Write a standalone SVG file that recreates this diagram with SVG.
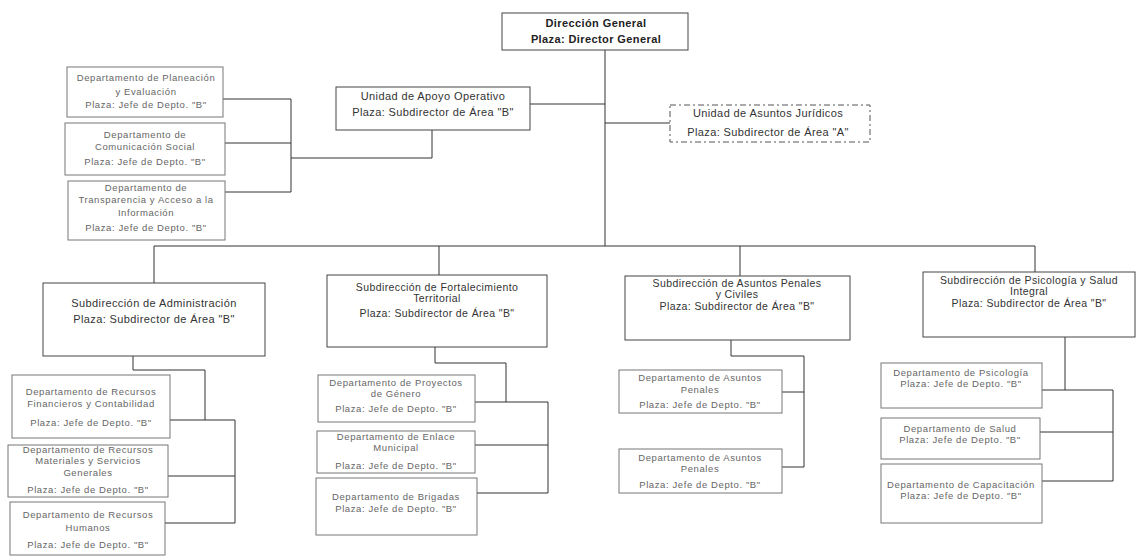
<svg xmlns="http://www.w3.org/2000/svg" width="1136" height="560" viewBox="0 0 1136 560">
<style>
.bx{fill:#fff;stroke:#444;stroke-width:1}
.db{fill:#fff;stroke:#777;stroke-width:1}
.dash{fill:#fff;stroke:#555;stroke-width:1;stroke-dasharray:6,3,2,3}
.ln{fill:none;stroke:#333;stroke-width:1}
text{font-family:"Liberation Sans",Arial,sans-serif;text-anchor:middle}
.t0{font-size:11px;font-weight:bold;fill:#222;letter-spacing:0.4px}
.t1{font-size:11px;fill:#333;letter-spacing:0.4px}
.t1s{font-size:10.5px;fill:#333;letter-spacing:0.4px}
.t2{font-size:9.5px;fill:#666;letter-spacing:0.6px}
</style>
<rect width="1136" height="560" fill="#fff"/>
<g id="connectors">
<path class="ln" d="M605,50 V246"/>
<path class="ln" d="M154,283 V246 H1035 V272"/>
<path class="ln" d="M439,246 V275"/>
<path class="ln" d="M740,246 V276"/>
<path class="ln" d="M530,104 H605"/>
<path class="ln" d="M605,123 H670"/>
<path class="ln" d="M432,130 V158 H291"/>
<path class="ln" d="M223,99 H291 V192 H225"/>
<path class="ln" d="M225,143 H291"/>
<path class="ln" d="M133,356 V370 H205 V420"/>
<path class="ln" d="M170,420 H235 V523 H165"/>
<path class="ln" d="M168,476 H235"/>
<path class="ln" d="M435,347 V363 H506 V402"/>
<path class="ln" d="M475,402 H548 V493 H477"/>
<path class="ln" d="M475,445 H548"/>
<path class="ln" d="M731,340 V356 H804 V467 H782"/>
<path class="ln" d="M782,392 H804"/>
<path class="ln" d="M1065,337 V390"/>
<path class="ln" d="M1042,390 H1113 V481 H1042"/>
<path class="ln" d="M1040,432 H1113"/>
</g>
<g id="direccion">
<rect class="bx" x="502" y="13" width="186" height="37"/>
<text class="t0" x="596" y="27">Dirección General</text>
<text class="t0" x="596" y="43">Plaza: Director General</text>
</g>
<g id="apoyo">
<rect class="bx" x="336" y="87" width="194" height="43"/>
<text class="t1" x="433" y="100">Unidad de Apoyo Operativo</text>
<text class="t1" x="433" y="116">Plaza: Subdirector de Área "B"</text>
</g>
<g id="juridicos">
<rect class="dash" x="670" y="105" width="200" height="37"/>
<text class="t1" x="768" y="117">Unidad de Asuntos Jurídicos</text>
<text class="t1" x="768" y="136">Plaza: Subdirector de Área "A"</text>
</g>
<g id="planeacion">
<rect class="db" x="67" y="67" width="156" height="50"/>
<text class="t2" x="146" y="81">Departamento de Planeación</text>
<text class="t2" x="146" y="95">y Evaluación</text>
<text class="t2" x="146" y="108">Plaza: Jefe de Depto. "B"</text>
</g>
<g id="comunicacion">
<rect class="db" x="65" y="123" width="160" height="52"/>
<text class="t2" x="145" y="138">Departamento de</text>
<text class="t2" x="145" y="150">Comunicación Social</text>
<text class="t2" x="145" y="165">Plaza: Jefe de Depto. "B"</text>
</g>
<g id="transparencia">
<rect class="db" x="68" y="181" width="157" height="59"/>
<text class="t2" x="146" y="191">Departamento de</text>
<text class="t2" x="146" y="203">Transparencia y Acceso a la</text>
<text class="t2" x="146" y="216">Información</text>
<text class="t2" x="146" y="231">Plaza: Jefe de Depto. "B"</text>
</g>
<g id="administracion">
<rect class="bx" x="43" y="283" width="222" height="73"/>
<text class="t1" x="154" y="307">Subdirección de Administración</text>
<text class="t1" x="154" y="323">Plaza: Subdirector de Área "B"</text>
</g>
<g id="financieros">
<rect class="db" x="12" y="375" width="158" height="63"/>
<text class="t2" x="91" y="395">Departamento de Recursos</text>
<text class="t2" x="91" y="407">Financieros y Contabilidad</text>
<text class="t2" x="91" y="426">Plaza: Jefe de Depto. "B"</text>
</g>
<g id="materiales">
<rect class="db" x="8" y="445" width="160" height="52"/>
<text class="t2" x="88" y="453">Departamento de Recursos</text>
<text class="t2" x="88" y="464">Materiales y Servicios</text>
<text class="t2" x="88" y="476">Generales</text>
<text class="t2" x="88" y="493">Plaza: Jefe de Depto. "B"</text>
</g>
<g id="humanos">
<rect class="db" x="10" y="502" width="155" height="53"/>
<text class="t2" x="88" y="518">Departamento de Recursos</text>
<text class="t2" x="88" y="531">Humanos</text>
<text class="t2" x="88" y="548">Plaza: Jefe de Depto. "B"</text>
</g>
<g id="fortalecimiento">
<rect class="bx" x="327" y="275" width="220" height="72"/>
<text class="t1s" x="437" y="291">Subdirección de Fortalecimiento</text>
<text class="t1s" x="437" y="302">Territorial</text>
<text class="t1s" x="437" y="317">Plaza: Subdirector de Área "B"</text>
</g>
<g id="genero">
<rect class="db" x="318" y="375" width="157" height="47"/>
<text class="t2" x="396" y="386">Departamento de Proyectos</text>
<text class="t2" x="396" y="397">de Género</text>
<text class="t2" x="396" y="412">Plaza: Jefe de Depto. "B"</text>
</g>
<g id="enlace">
<rect class="db" x="317" y="431" width="158" height="42"/>
<text class="t2" x="396" y="440">Departamento de Enlace</text>
<text class="t2" x="396" y="451">Municipal</text>
<text class="t2" x="396" y="469">Plaza: Jefe de Depto. "B"</text>
</g>
<g id="brigadas">
<rect class="db" x="316" y="478" width="161" height="57"/>
<text class="t2" x="396" y="500">Departamento de Brigadas</text>
<text class="t2" x="396" y="512">Plaza: Jefe de Depto. "B"</text>
</g>
<g id="penales">
<rect class="bx" x="625" y="276" width="225" height="64"/>
<text class="t1s" x="737" y="287">Subdirección de Asuntos Penales</text>
<text class="t1s" x="737" y="298">y Civiles</text>
<text class="t1s" x="737" y="310">Plaza: Subdirector de Área "B"</text>
</g>
<g id="dep-penales-1">
<rect class="db" x="619" y="370" width="163" height="43"/>
<text class="t2" x="700" y="381">Departamento de Asuntos</text>
<text class="t2" x="700" y="393">Penales</text>
<text class="t2" x="700" y="408">Plaza: Jefe de Depto. "B"</text>
</g>
<g id="dep-penales-2">
<rect class="db" x="619" y="449" width="163" height="44"/>
<text class="t2" x="700" y="461">Departamento de Asuntos</text>
<text class="t2" x="700" y="472">Penales</text>
<text class="t2" x="700" y="488">Plaza: Jefe de Depto. "B"</text>
</g>
<g id="psicologia">
<rect class="bx" x="923" y="272" width="212" height="65"/>
<text class="t1s" x="1029" y="284">Subdirección de Psicología y Salud</text>
<text class="t1s" x="1029" y="295">Integral</text>
<text class="t1s" x="1029" y="307">Plaza: Subdirector de Área "B"</text>
</g>
<g id="dep-psicologia">
<rect class="db" x="881" y="363" width="161" height="45"/>
<text class="t2" x="961" y="376">Departamento de Psicología</text>
<text class="t2" x="961" y="387">Plaza: Jefe de Depto. "B"</text>
</g>
<g id="salud">
<rect class="db" x="881" y="418" width="159" height="41"/>
<text class="t2" x="960" y="432">Departamento de Salud</text>
<text class="t2" x="960" y="443">Plaza: Jefe de Depto. "B"</text>
</g>
<g id="capacitacion">
<rect class="db" x="881" y="464" width="161" height="59"/>
<text class="t2" x="961" y="488">Departamento de Capacitación</text>
<text class="t2" x="961" y="499">Plaza: Jefe de Depto. "B"</text>
</g>
</svg>
